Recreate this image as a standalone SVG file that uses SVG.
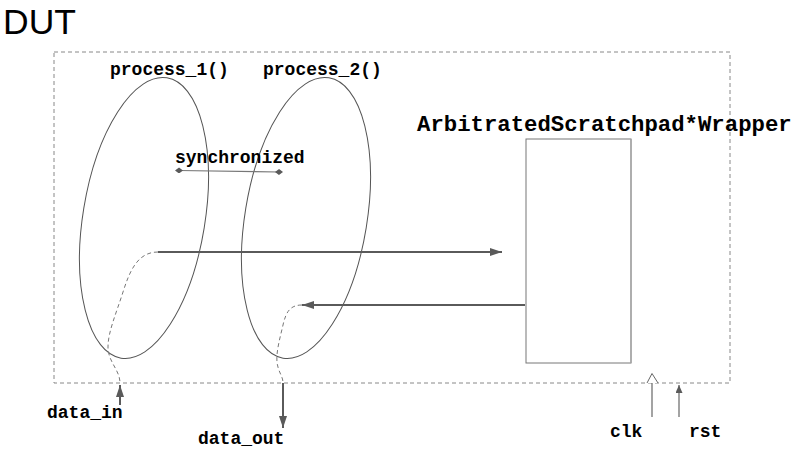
<svg xmlns="http://www.w3.org/2000/svg" width="800" height="455" viewBox="0 0 800 455">
<style>
.mono{font-family:"Liberation Mono","Courier New",monospace;font-weight:bold;fill:#000}
.ell{fill:none;stroke:#555;stroke-width:1}
.dash{fill:none;stroke:#777;stroke-width:1;stroke-dasharray:4,3}
.wire{fill:none;stroke:#5a5a5a;stroke-width:2}
.thin{fill:none;stroke:#666;stroke-width:1.2}
</style>
<defs>
<marker id="ah" viewBox="0 0 12 8" refX="12" refY="4" markerWidth="12" markerHeight="8" markerUnits="userSpaceOnUse" orient="auto">
<path d="M0,0 L12,4 L0,8 Z" fill="#5a5a5a"/>
</marker>
<marker id="ahs" viewBox="0 0 8 7" refX="8" refY="3.5" markerWidth="8" markerHeight="7" markerUnits="userSpaceOnUse" orient="auto">
<path d="M0,0 L8,3.5 L0,7 Z" fill="#5a5a5a"/>
</marker>
<marker id="dia" viewBox="0 0 8 6" refX="4" refY="3" markerWidth="8" markerHeight="6" markerUnits="userSpaceOnUse" orient="auto">
<path d="M0,3 L4,0 L8,3 L4,6 Z" fill="#5a5a5a"/>
</marker>
</defs>
<text x="3" y="34" font-family="Liberation Sans, Arial, sans-serif" font-size="35.5" fill="#000">DUT</text>
<g id="dut">
<rect x="54" y="52" width="676" height="331" fill="none" stroke="#888" stroke-width="1" stroke-dasharray="4,3"/>
</g>
<g id="process1">
<ellipse class="ell" cx="144" cy="218" rx="61" ry="142" transform="rotate(9.3 144 218)"/>
<text class="mono" x="110" y="75" font-size="18">process_1()</text>
</g>
<g id="process2">
<ellipse class="ell" cx="306" cy="218" rx="61" ry="142" transform="rotate(9.3 306 218)"/>
<text class="mono" x="263" y="75" font-size="18">process_2()</text>
</g>
<g id="wrapper">
<rect x="526" y="139" width="105" height="224" fill="#fff" stroke="#777" stroke-width="1"/>
<line x1="631" y1="139" x2="631" y2="363" stroke="#aaa" stroke-width="1.5"/>
<text class="mono" x="417" y="131" font-size="22.3">ArbitratedScratchpad*Wrapper</text>
</g>
<g id="labels">
<text class="mono" x="175" y="163" font-size="18">synchronized</text>
<text class="mono" x="47" y="418" font-size="18">data_in</text>
<text class="mono" x="198" y="444" font-size="18">data_out</text>
<text class="mono" x="610" y="437" font-size="18">clk</text>
<text class="mono" x="689" y="437" font-size="18">rst</text>
</g>
<g id="connectors">
<line x1="179" y1="170.5" x2="279" y2="172" stroke="#777" stroke-width="1.2" marker-start="url(#dia)" marker-end="url(#dia)"/>
<path class="dash" d="M158,252 C138,252 130,270 123,292 C116,314 108,332 108,347 C108,362 120,370 120,383"/>
<line class="wire" x1="158" y1="252" x2="502" y2="252" marker-end="url(#ah)"/>
<line class="wire" x1="120" y1="405" x2="120" y2="385" marker-end="url(#ah)"/>
<line class="wire" x1="525" y1="305" x2="302" y2="305" marker-end="url(#ah)"/>
<path class="dash" d="M302,305 C290,305 286,312 283,325 C280,338 276,352 277,362 C278,372 283,376 283,383"/>
<line class="wire" x1="283" y1="383" x2="283" y2="428" marker-end="url(#ah)"/>
<line class="thin" x1="652" y1="417" x2="652" y2="383"/>
<path d="M647,383 L652,373.5 L658,383" fill="#fff" stroke="#666" stroke-width="1"/>
<line class="thin" x1="679" y1="417" x2="679" y2="385" marker-end="url(#ahs)"/>
</g>
</svg>
